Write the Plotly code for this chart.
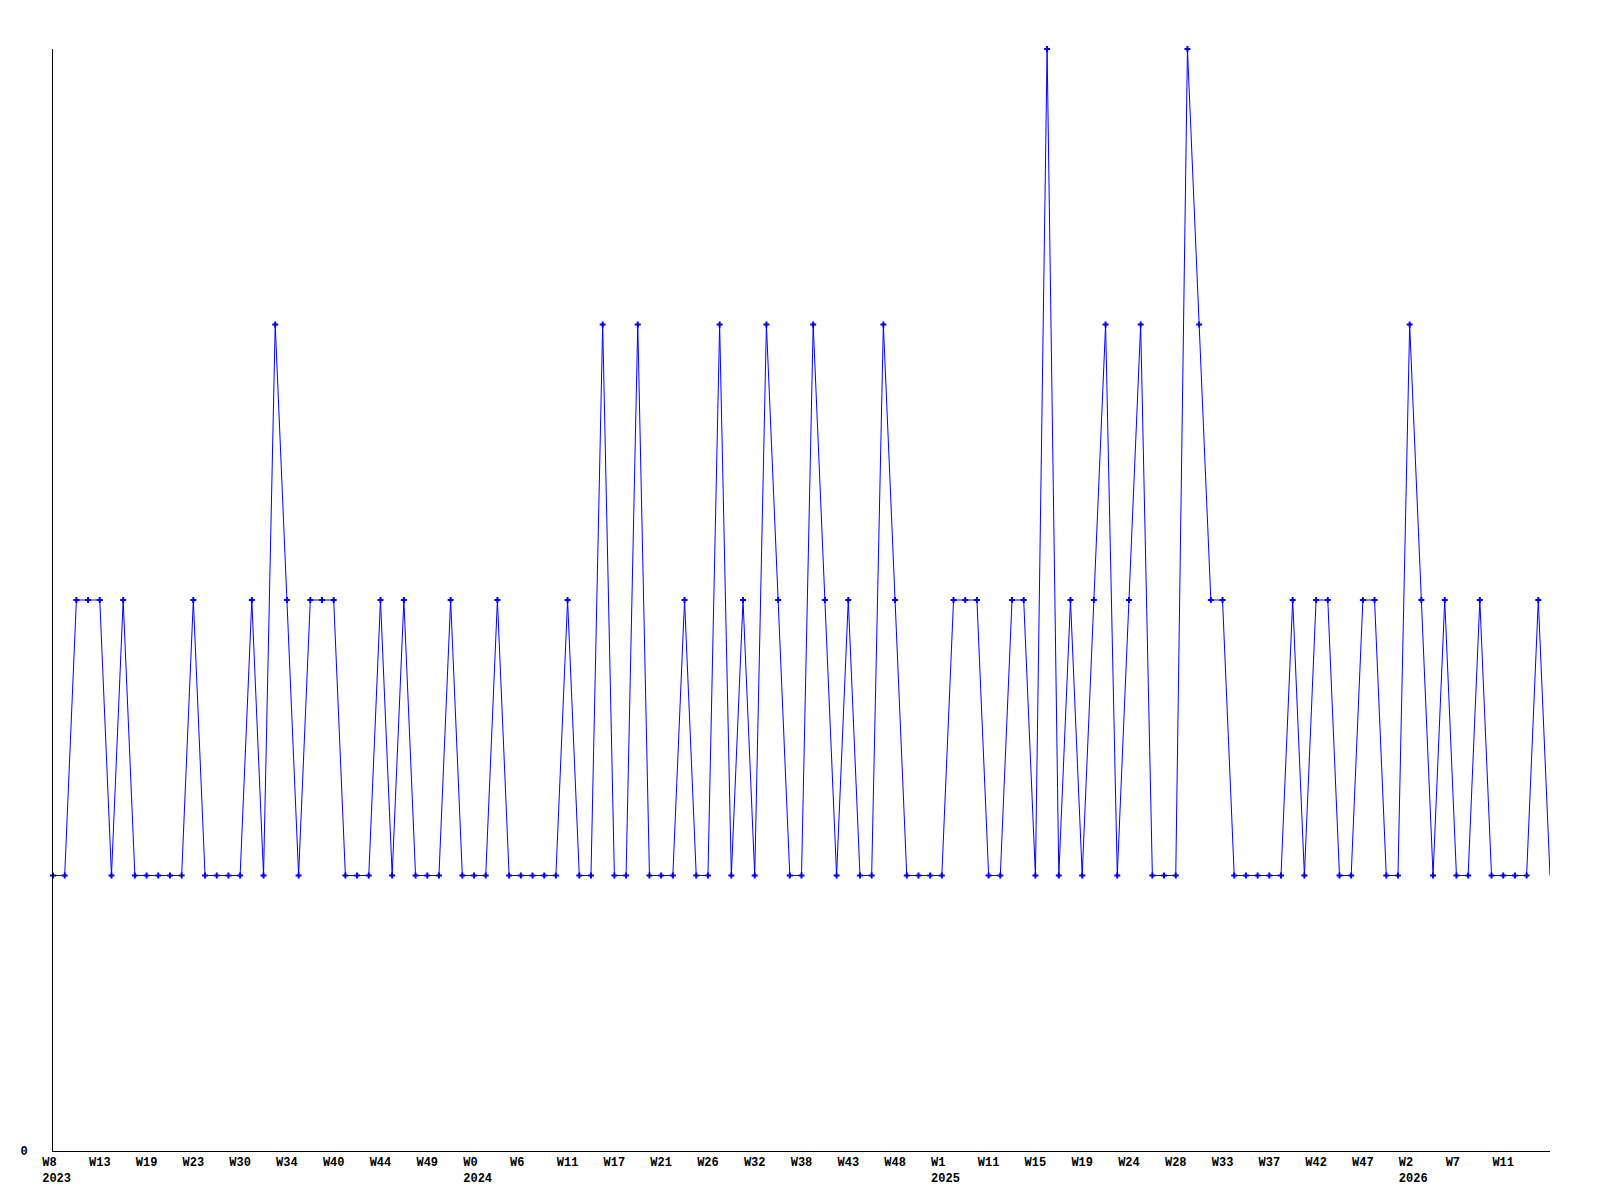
import plotly.graph_objects as go

# weekly values (129 points)
values = [
    1, 1, 2, 2, 2, 1, 2, 1, 1, 1, 1, 1, 2, 1, 1, 1, 1, 2, 1, 3,
    2, 1, 2, 2, 2, 1, 1, 1, 2, 1, 2, 1, 1, 1, 2, 1, 1, 1, 2, 1,
    1, 1, 1, 1, 2, 1, 1, 3, 1, 1, 3, 1, 1, 1, 2, 1, 1, 3, 1, 2,
    1, 3, 2, 1, 1, 3, 2, 1, 2, 1, 1, 3, 2, 1, 1, 1, 1, 2, 2, 2,
    1, 1, 2, 2, 1, 4, 1, 2, 1, 2, 3, 1, 2, 3, 1, 1, 1, 4, 3, 2,
    2, 1, 1, 1, 1, 1, 2, 1, 2, 2, 1, 1, 2, 2, 1, 1, 3, 2, 1, 2,
    1, 1, 2, 1, 1, 1, 1, 2, 1,
]

week_labels = ["W8", "W13", "W19", "W23", "W30", "W34", "W40", "W44", "W49", "W0",
               "W6", "W11", "W17", "W21", "W26", "W32", "W38", "W43", "W48", "W1",
               "W11", "W15", "W19", "W24", "W28", "W33", "W37", "W42", "W47", "W2",
               "W7", "W11"]
year_labels = {0: "2023", 9: "2024", 19: "2025", 29: "2026"}
label_step = 4

x = list(range(len(values)))
NB = "\u00a0"

tickvals = [i * label_step for i in range(len(week_labels))]
ticktext = []
for i, w in enumerate(week_labels):
    t = w + NB * (3 - len(w))
    if i in year_labels:
        t = t + "<br>" + NB + year_labels[i]
    ticktext.append(t)

fig = go.Figure()
fig.add_trace(go.Scatter(
    x=x, y=values, mode="lines",
    line=dict(color="#0000ff", width=1),
    hoverinfo="skip", showlegend=False, cliponaxis=False,
))
fig.add_trace(go.Scatter(
    x=x[:-1], y=values[:-1], mode="markers",
    marker=dict(color="#0000ff", symbol="cross", size=5, line=dict(width=0)),
    showlegend=False, cliponaxis=False,
))

font = dict(family="Liberation Mono, DejaVu Sans Mono, monospace", size=12, color="#000000", weight="bold")

fig.update_layout(
    width=1592, height=1192,
    margin=dict(l=42, r=50, t=41, b=49, pad=0),
    paper_bgcolor="white", plot_bgcolor="white",
    font=font,
    xaxis=dict(
        range=[0, len(values) - 1], showgrid=False, zeroline=False,
        showline=True, linecolor="black", linewidth=1,
        tickmode="array", tickvals=tickvals, ticktext=ticktext,
        ticks="", tickfont=font, tickangle=0, ticklabelstandoff=0,
    ),
    yaxis=dict(
        range=[0, 4], showgrid=False, zeroline=False,
        showline=True, linecolor="black", linewidth=1,
        tickmode="array", tickvals=[0], ticktext=["0"],
        ticks="", tickfont=font, ticklabelstandoff=22,
    ),
)

fig.write_html("out.html")
